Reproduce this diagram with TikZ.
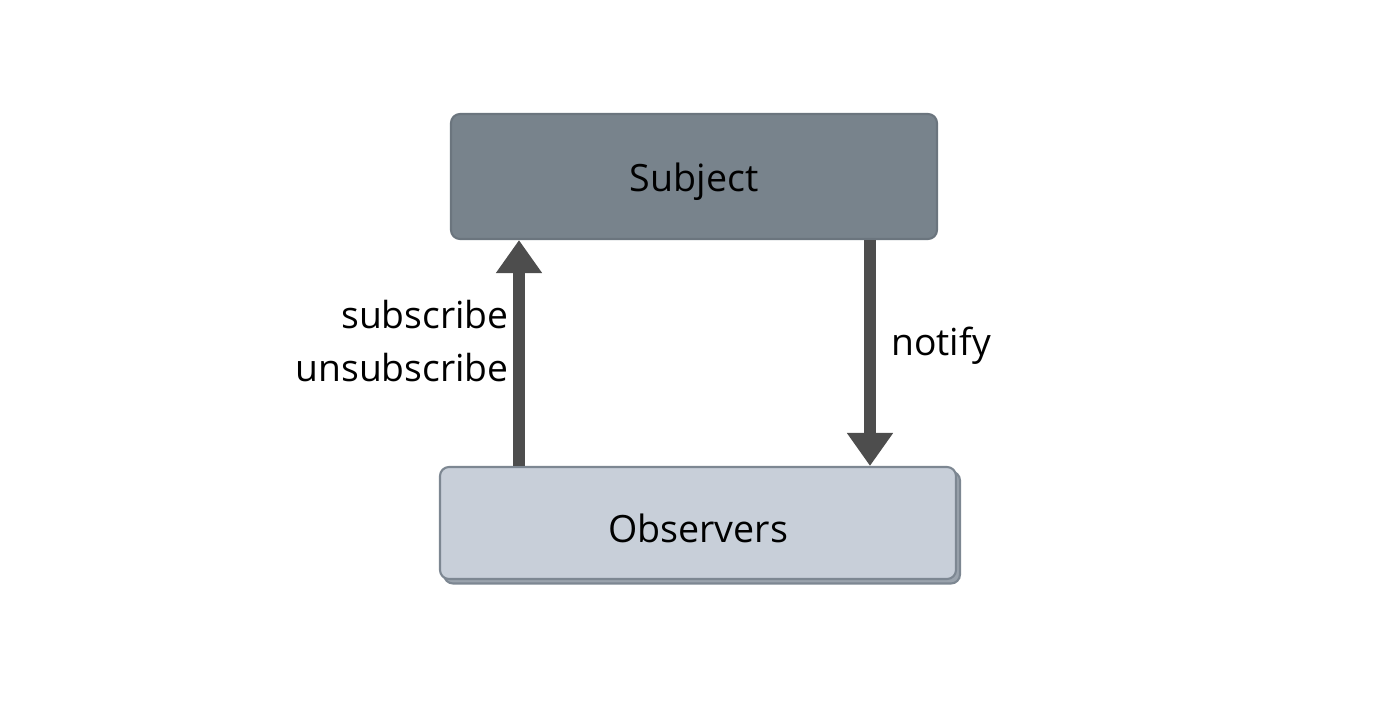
\documentclass[tikz,border=0pt]{standalone}
\usepackage{fontspec}
\setmainfont{Open Sans}
\usetikzlibrary{arrows.meta}
\definecolor{subjfill}{HTML}{78838C}
\definecolor{subjline}{HTML}{6B757E}
\definecolor{obsfill}{HTML}{C8CFD9}
\definecolor{obsline}{HTML}{7D8792}
\definecolor{obsshadow}{HTML}{9AA3AD}
\definecolor{arrowgray}{HTML}{4D4D4D}
\tikzset{
  box/.style={rectangle, rounded corners=0.09cm, line width=0.6pt, font=\fontsize{10.7pt}{12pt}\selectfont},
  flow/.style={draw=arrowgray, line width=0.12cm, -{Triangle[width=0.44cm, length=0.33cm]}},
  lbl/.style={font=\fontsize{10.6pt}{15pt}\selectfont}
}
\begin{document}
\begin{tikzpicture}
        \useasboundingbox (0,0) rectangle (14,7);
        \node[box, fill=obsshadow, draw=obsline, minimum width=5.16cm, minimum height=1.12cm] (obsback) at (7.02, 1.725) {};
        \node[box, fill=obsfill, draw=obsline, minimum width=5.16cm, minimum height=1.12cm] (obs) at (6.98, 1.77) {\raisebox{-1.4pt}[\height][\depth]{Observers}};
        \node[box, fill=subjfill, draw=subjline, minimum width=4.86cm, minimum height=1.25cm] (subj) at (6.94, 5.235) {\raisebox{-1.4pt}[\height][\depth]{Subject}};
        \coordinate (lx) at (5.19, 0);
        \coordinate (rx) at (8.70, 0);
        \draw[flow] (obs.north -| lx) -- (subj.south -| lx);
        \draw[flow] (subj.south -| rx) -- (obs.north -| rx);
        \node[lbl, anchor=east, align=right] (sublbl) at (5.21, 3.59) {subscribe\\unsubscribe};
        \node[lbl, anchor=west] (notlbl) at (8.79, 3.54) {notify};
        \end{tikzpicture}
\end{document}
